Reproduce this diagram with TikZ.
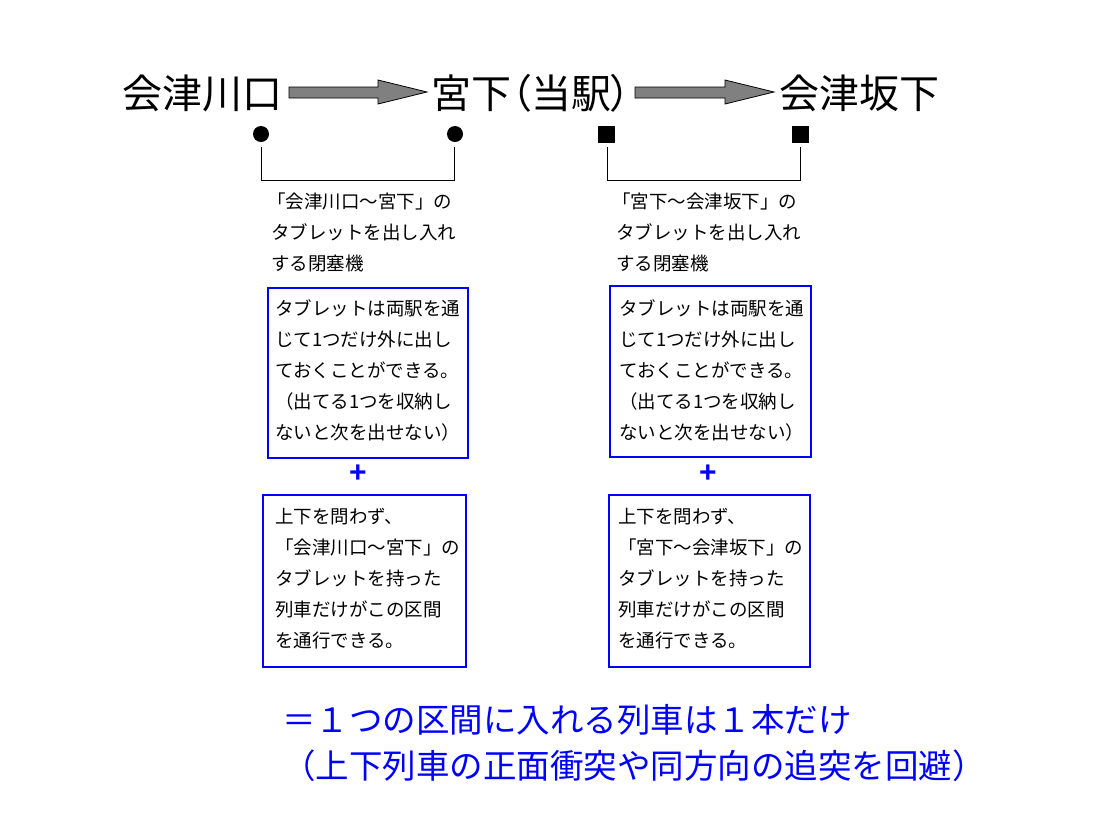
\documentclass[tikz,border=0pt]{standalone}
\usepackage{fontspec}
\newfontfamily\cjk{Noto Sans CJK JP}
\newfontfamily\cjkp[RawFeature=+palt]{Noto Sans CJK JP}
\newfontfamily\lsans{Liberation Sans}
\begin{document}
\begin{tikzpicture}[x=1pt,y=-1pt,
  title/.style={font=\cjk\fontsize{40}{40}\selectfont, inner sep=0pt, anchor=west},
  small/.style={font=\cjk\fontsize{18.5}{31}\selectfont, align=left, inner sep=0pt, anchor=west},
  big/.style={font=\cjk\fontsize{33.5}{40}\selectfont, text=blue, inner sep=0pt, anchor=west},
  bbox/.style={draw=blue, line width=2.5pt, inner sep=0pt},
  blockarrow/.style={fill=black!50, draw=black, line width=0.8pt, line join=miter},
  dot/.style={circle, fill=black, inner sep=0pt, minimum size=16pt},
  sq/.style={rectangle, fill=black, inner sep=0pt, minimum size=17pt},
  plus/.style={text=blue, font=\lsans\bfseries\fontsize{30}{30}\selectfont, inner sep=0pt}]
\useasboundingbox (0,0) rectangle (1108,831);
\fill[white] (0,0) rectangle (1108,831);

% titles
\node[title] (kk) at (122,93) {会津川口};
\node[title, font=\cjkp\fontsize{40}{40}\selectfont] (mi) at (431,93) {宮下（当駅）};
\node[title] (as) at (779,93) {会津坂下};

% block arrows
\filldraw[blockarrow] (289,87) -- (378,87) -- (378,80) -- (427,92) -- (378,104) -- (378,98) -- (289,98) -- cycle;
\filldraw[blockarrow] (635,87) -- (725,87) -- (725,80) -- (774,92) -- (725,104) -- (725,98) -- (635,98) -- cycle;

% markers
\node[dot] (c1) at (261,134) {};
\node[dot] (c2) at (455,134) {};
\node[sq] (s1) at (606,134) {};
\node[sq] (s2) at (800,134) {};

% brackets
\coordinate (b1a) at (261,147);
\coordinate (b1b) at (454,147);
\coordinate (b2a) at (607,147);
\coordinate (b2b) at (800,147);
\draw[line width=0.8pt] (b1a) -- ++(0,33) -| (b1b);
\draw[line width=0.8pt] (b2a) -- ++(0,33) -| (b2b);

% descriptions
\node[small] (t1) at (267,232) {「会津川口～宮下」の\\\hspace*{4pt}タブレットを出し入れ\\\hspace*{4pt}する閉塞機};
\node[small] (t2) at (612,232) {「宮下～会津坂下」の\\\hspace*{4pt}タブレットを出し入れ\\\hspace*{4pt}する閉塞機};

% boxes row 1
\node[bbox, minimum width=200pt, minimum height=170pt] (B1) at (368,373) {};
\node[bbox, minimum width=201pt, minimum height=171pt] (B2) at (710.5,371.5) {};
\node[small] (B1t) at (275,370) {タブレットは両駅を通\\じて1つだけ外に出し\\ておくことができる。\\（出てる1つを収納し\\ないと次を出せない）};
\node[small] (B2t) at (619,370) {タブレットは両駅を通\\じて1つだけ外に出し\\ておくことができる。\\（出てる1つを収納し\\ないと次を出せない）};

% plus signs
\node[plus] (p1) at (358,474) {+};
\node[plus] (p2) at (708,474) {+};

% boxes row 2
\node[bbox, minimum width=203pt, minimum height=172pt] (C1) at (364.5,581) {};
\node[bbox, minimum width=201pt, minimum height=172pt] (C2) at (709.5,581) {};
\node[small] (C1t) at (275,579) {上下を問わず、\\「会津川口～宮下」の\\タブレットを持った\\列車だけがこの区間\\を通行できる。};
\node[small] (C2t) at (618,579) {上下を問わず、\\「宮下～会津坂下」の\\タブレットを持った\\列車だけがこの区間\\を通行できる。};

% conclusion
\node[big] (l1) at (282,720) {＝１つの区間に入れる列車は１本だけ};
\node[big] (l2) at (282,766) {（上下列車の正面衝突や同方向の追突を回避）};
\end{tikzpicture}
\end{document}
